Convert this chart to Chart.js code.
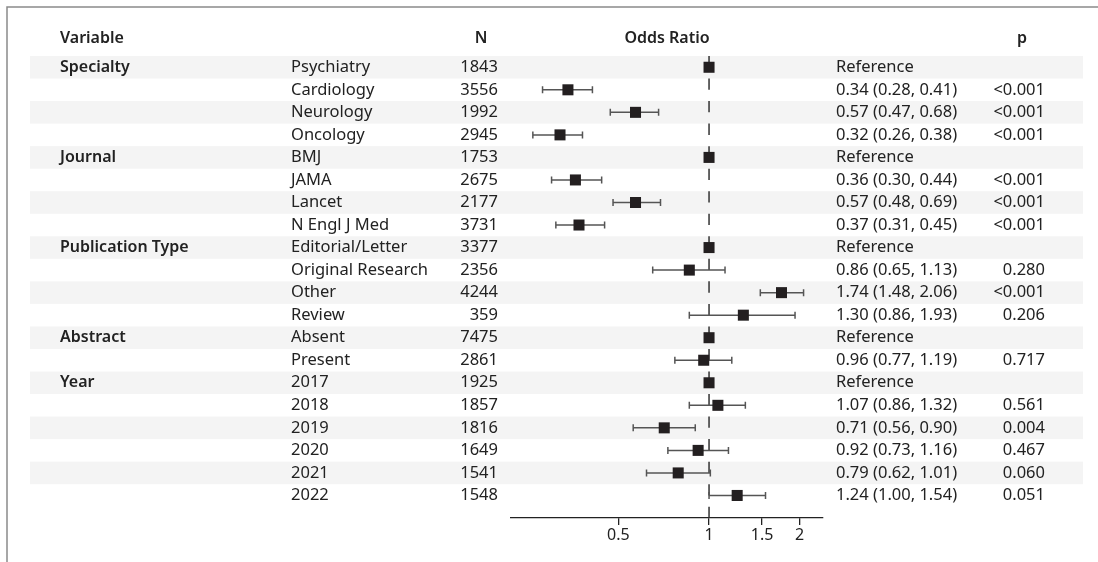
<!DOCTYPE html>
<html>
<head>
<meta charset="utf-8">
<script src="https://cdn.jsdelivr.net/npm/chart.js@4/dist/chart.umd.min.js"></script>
<style>
  body { margin: 0; background: #fff; }
  canvas { display: block; }
</style>
</head>
<body>
<canvas id="forest" width="1098" height="562"></canvas>
<script>
// data
const groups = ["Specialty", "", "", "", "Journal", "", "", "", "Publication Type", "", "", "", "Abstract", "", "Year", "", "", "", "", ""];
const levels = ["Psychiatry", "Cardiology", "Neurology", "Oncology", "BMJ", "JAMA", "Lancet", "N Engl J Med",
  "Editorial/Letter", "Original Research", "Other", "Review", "Absent", "Present",
  "2017", "2018", "2019", "2020", "2021", "2022"];
const counts = [1843, 3556, 1992, 2945, 1753, 2675, 2177, 3731, 3377, 2356, 4244, 359, 7475, 2861, 1925, 1857, 1816, 1649, 1541, 1548];
const oddsRatio = [1, 0.34, 0.57, 0.32, 1, 0.36, 0.57, 0.37, 1, 0.86, 1.74, 1.30, 1, 0.96, 1, 1.07, 0.71, 0.92, 0.79, 1.24];
const lower = [null, 0.28, 0.47, 0.26, null, 0.30, 0.48, 0.31, null, 0.65, 1.48, 0.86, null, 0.77, null, 0.86, 0.56, 0.73, 0.62, 1.00];
const upper = [null, 0.41, 0.68, 0.38, null, 0.44, 0.69, 0.45, null, 1.13, 2.06, 1.93, null, 1.19, null, 1.32, 0.90, 1.16, 1.01, 1.54];
const pValues = ["", "<0.001", "<0.001", "<0.001", "", "<0.001", "<0.001", "<0.001", "", "0.280", "<0.001", "0.206", "", "0.717", "", "0.561", "0.004", "0.467", "0.060", "0.051"];
const xTicks = [0.5, 1, 1.5, 2];

const FONT = "'Noto Sans', Lato, sans-serif";
const TXT = "#222";

function estText(i) {
  if (lower[i] === null) return "Reference";
  return oddsRatio[i].toFixed(2) + " (" + lower[i].toFixed(2) + ", " + upper[i].toFixed(2) + ")";
}

const forestPlugin = {
  id: "forestPlot",
  beforeDraw(chart) {
    const ctx = chart.ctx;
    const y = chart.scales.y;
    ctx.save();
    ctx.fillStyle = "#fff";
    ctx.fillRect(0, 0, chart.width, chart.height);
    // row shading
    const h = Math.abs(y.getPixelForValue(1) - y.getPixelForValue(0));
    ctx.fillStyle = "#f4f4f4";
    for (let i = 0; i < levels.length; i += 2) {
      const py = y.getPixelForValue(i);
      ctx.fillRect(30, py - h / 2, 1053, h);
    }
    // frame (top + left)
    ctx.strokeStyle = "#8a8a8a";
    ctx.lineWidth = 1.5;
    ctx.beginPath();
    ctx.moveTo(7, chart.height);
    ctx.lineTo(7, 7);
    ctx.lineTo(chart.width, 7);
    ctx.stroke();
    ctx.restore();
  },
  beforeDatasetsDraw(chart) {
    const ctx = chart.ctx;
    const x = chart.scales.x;
    const y = chart.scales.y;
    const area = chart.chartArea;
    ctx.save();
    // dashed line at OR = 1
    const x1 = x.getPixelForValue(1);
    const h = Math.abs(y.getPixelForValue(1) - y.getPixelForValue(0));
    ctx.strokeStyle = "#333";
    ctx.lineWidth = 1.5;
    ctx.setLineDash([h / 2, h / 2]);
    ctx.beginPath();
    ctx.moveTo(x1, area.top);
    ctx.lineTo(x1, area.bottom);
    ctx.stroke();
    ctx.setLineDash([]);
    // confidence intervals
    ctx.strokeStyle = "#555";
    ctx.lineWidth = 1.5;
    for (let i = 0; i < levels.length; i++) {
      if (lower[i] === null) continue;
      const py = y.getPixelForValue(i);
      const xl = x.getPixelForValue(lower[i]);
      const xh = x.getPixelForValue(upper[i]);
      ctx.beginPath();
      ctx.moveTo(xl, py); ctx.lineTo(xh, py);
      ctx.moveTo(xl, py - 3.5); ctx.lineTo(xl, py + 3.5);
      ctx.moveTo(xh, py - 3.5); ctx.lineTo(xh, py + 3.5);
      ctx.stroke();
    }
    ctx.restore();
  },
  afterDraw(chart) {
    const ctx = chart.ctx;
    const y = chart.scales.y;
    ctx.save();
    ctx.fillStyle = TXT;
    ctx.textBaseline = "middle";
    // headers
    ctx.font = "600 16px " + FONT;
    ctx.textAlign = "left";
    ctx.fillText("Variable", 60, 38.5);
    ctx.textAlign = "center";
    ctx.fillText("N", 481, 38.5);
    ctx.fillText("Odds Ratio", 667, 38.5);
    ctx.fillText("p", 1022, 38.5);
    for (let i = 0; i < levels.length; i++) {
      const py = y.getPixelForValue(i);
      if (groups[i]) {
        ctx.font = "600 16px " + FONT;
        ctx.textAlign = "left";
        ctx.fillText(groups[i], 60, py);
      }
      ctx.font = "16.5px " + FONT;
      ctx.textAlign = "left";
      ctx.fillText(levels[i], 291, py);
      ctx.fillText(estText(i), 836, py);
      ctx.textAlign = "right";
      ctx.fillText(String(counts[i]), 498, py);
      ctx.fillText(pValues[i], 1045, py);
    }
    ctx.restore();
  }
};

new Chart(document.getElementById("forest"), {
  type: "scatter",
  data: {
    datasets: [{
      data: oddsRatio.map((v, i) => ({ x: v, y: i })),
      pointStyle: "rect",
      radius: 7.8,
      hoverRadius: 7.8,
      backgroundColor: "#231f20",
      borderWidth: 0
    }]
  },
  options: {
    responsive: false,
    animation: false,
    events: [],
    layout: { padding: { left: 511, right: 275, top: 56, bottom: 14 } },
    plugins: { legend: { display: false }, tooltip: { enabled: false } },
    scales: {
      x: {
        type: "logarithmic",
        min: 0.22,
        max: 2.39,
        afterBuildTicks: (s) => { s.ticks = xTicks.map(v => ({ value: v })); },
        afterFit: (s) => { s.height = 30; },
        grid: { drawOnChartArea: false, drawTicks: true, tickLength: 7, color: "#222", lineWidth: 1.3 },
        border: { display: true, color: "#222", width: 1.3 },
        ticks: {
          color: TXT,
          padding: 1,
          maxRotation: 0,
          autoSkip: false,
          font: { family: FONT, size: 16 },
          callback: (v) => String(v)
        }
      },
      y: {
        type: "linear",
        display: false,
        reverse: true,
        min: -0.5,
        max: 20
      }
    }
  },
  plugins: [forestPlugin]
});
</script>
</body>
</html>
